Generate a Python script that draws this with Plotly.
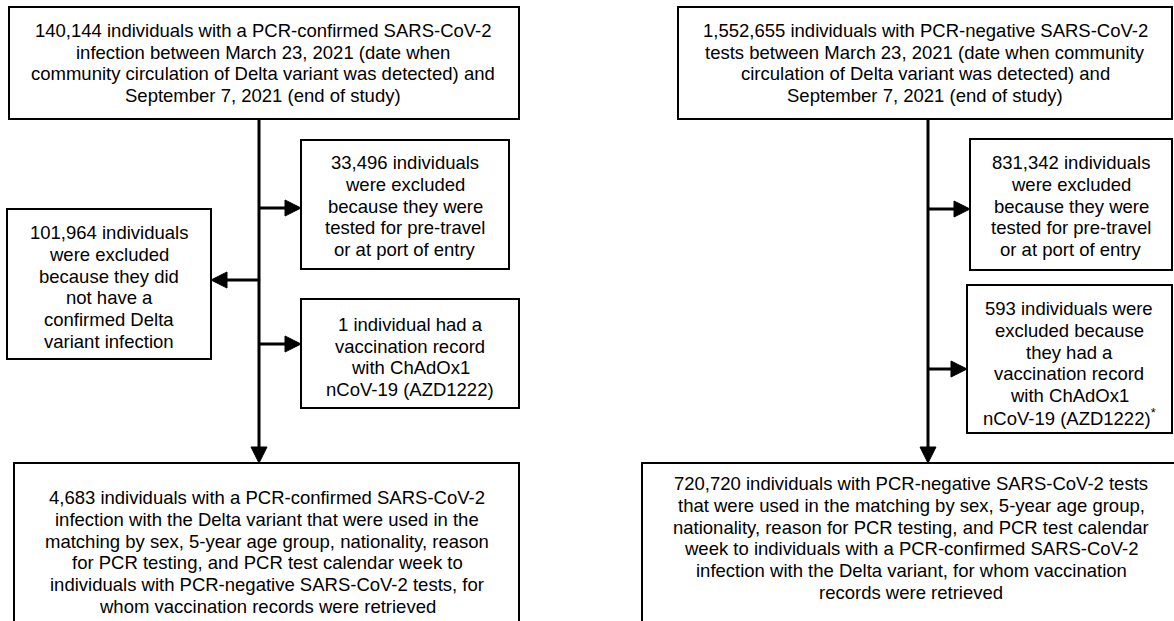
import plotly.graph_objects as go

# ---------------- data ----------------
# Cases (PCR-confirmed SARS-CoV-2 infections)
case_counts = [140144, 33496, 101964, 1, 4683]
# Controls (PCR-negative SARS-CoV-2 tests)
control_counts = [1552655, 831342, 593, 720720]

case_texts = [
    "{n} individuals with a PCR-confirmed SARS-CoV-2<br>infection between March 23, 2021 (date when<br>"
    "community circulation of Delta variant was detected) and<br>September 7, 2021 (end of study)",
    "{n} individuals<br>were excluded<br>because they were<br>tested for pre-travel<br>or at port of entry",
    "{n} individuals<br>were excluded<br>because they did<br>not have a<br>confirmed Delta<br>variant infection",
    "{n} individual had a<br>vaccination record<br>with ChAdOx1<br>nCoV-19 (AZD1222)",
    "{n} individuals with a PCR-confirmed SARS-CoV-2<br>infection with the Delta variant that were used in the<br>"
    "matching by sex, 5-year age group, nationality, reason<br>for PCR testing, and PCR test calendar week to<br>"
    "individuals with PCR-negative SARS-CoV-2 tests, for<br>whom vaccination records were retrieved",
]
control_texts = [
    "{n} individuals with PCR-negative SARS-CoV-2<br>tests between March 23, 2021 (date when community<br>"
    "circulation of Delta variant was detected) and<br>September 7, 2021 (end of study)",
    "{n} individuals<br>were excluded<br>because they were<br>tested for pre-travel<br>or at port of entry",
    "{n} individuals were<br>excluded because<br>they had a<br>vaccination record<br>with ChAdOx1<br>"
    "nCoV-19 (AZD1222)<sup>*</sup>",
    "{n} individuals with PCR-negative SARS-CoV-2 tests<br>that were used in the matching by sex, 5-year age group,<br>"
    "nationality, reason for PCR testing, and PCR test calendar<br>week to individuals with a PCR-confirmed SARS-CoV-2<br>"
    "infection with the Delta variant, for whom vaccination<br>records were retrieved",
]

# ---------------- layout (pixel positions) ----------------
W, H = 1174, 621
# boxes: x0, y0, x1, y1, text centre x, text centre y
case_boxes = [
    (9, 7, 519, 119, 263, 63),
    (301, 140, 509, 269, 405, 206),
    (7, 209, 211, 359, 109, 287),
    (301, 299, 519, 408, 410, 357),
    (14, 463, 519, 660, 267, 552),
]
control_boxes = [
    (678, 7, 1172, 119, 925, 63),
    (970, 139, 1172, 270, 1071, 206),
    (967, 285, 1172, 433, 1069, 363),
    (642, 463, 1190, 660, 911, 538),
]
case_spine_x = 259
control_spine_x = 928
# horizontal arrows: (from x, y, to x)
case_side_arrows = [(case_spine_x, 208, 301), (case_spine_x, 280, 211), (case_spine_x, 344, 301)]
control_side_arrows = [(control_spine_x, 209, 970), (control_spine_x, 369, 967)]

FONT = dict(family="Arial, Liberation Sans, sans-serif", size=18.5, color="black")
LINE_H = 21.7
BOX_LINE = 2
SPINE_LINE = 3
HEAD_L = 16
HEAD_W = 8

fig = go.Figure()
shapes = []
annotations = []


def add_box(box, text):
    x0, y0, x1, y1, cx, cy = box
    shapes.append(dict(type="rect", xref="x", yref="y", x0=x0, y0=y0, x1=x1, y1=y1,
                       line=dict(color="black", width=BOX_LINE), fillcolor="rgba(0,0,0,0)"))
    lines = text.split("<br>")
    n = len(lines)
    for i, ln in enumerate(lines):
        annotations.append(dict(x=cx, y=cy + (i - (n - 1) / 2) * LINE_H, xref="x", yref="y",
                                text=ln, showarrow=False, align="center", font=FONT,
                                xanchor="center", yanchor="middle"))


def h_arrow(xa, y, xb):
    d = 1 if xb > xa else -1
    base = xb - d * HEAD_L
    shapes.append(dict(type="line", xref="x", yref="y", x0=xa, y0=y, x1=base, y1=y,
                       line=dict(color="black", width=SPINE_LINE)))
    shapes.append(dict(type="path", xref="x", yref="y",
                       path=f"M {base},{y - HEAD_W} L {xb},{y} L {base},{y + HEAD_W} Z",
                       fillcolor="black", line=dict(color="black", width=1)))


def v_arrow(x, ya, yb):
    base = yb - HEAD_L
    shapes.append(dict(type="line", xref="x", yref="y", x0=x, y0=ya, x1=x, y1=base,
                       line=dict(color="black", width=SPINE_LINE)))
    shapes.append(dict(type="path", xref="x", yref="y",
                       path=f"M {x - HEAD_W},{base} L {x},{yb} L {x + HEAD_W},{base} Z",
                       fillcolor="black", line=dict(color="black", width=1)))


for box, tmpl, n in zip(case_boxes, case_texts, case_counts):
    add_box(box, tmpl.format(n=f"{n:,}"))
for box, tmpl, n in zip(control_boxes, control_texts, control_counts):
    add_box(box, tmpl.format(n=f"{n:,}"))

v_arrow(case_spine_x, case_boxes[0][3], case_boxes[-1][1])
v_arrow(control_spine_x, control_boxes[0][3], control_boxes[-1][1])
for a in case_side_arrows:
    h_arrow(*a)
for a in control_side_arrows:
    h_arrow(*a)

fig.update_layout(
    width=W, height=H,
    margin=dict(l=0, r=0, t=0, b=0),
    paper_bgcolor="white", plot_bgcolor="white",
    xaxis=dict(range=[0, W], visible=False, fixedrange=True),
    yaxis=dict(range=[H, 0], visible=False, fixedrange=True),
    shapes=shapes, annotations=annotations, showlegend=False,
)
fig.write_html("out.html", config={"displayModeBar": False},
               post_script="document.body.style.margin='0px';document.body.style.overflow='hidden';")
